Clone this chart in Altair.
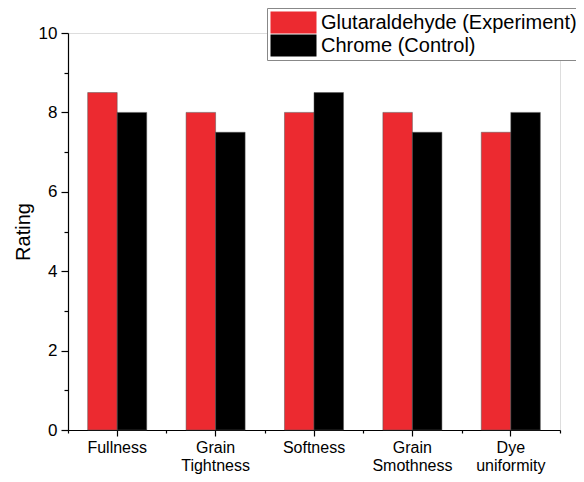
import altair as alt
import pandas as pd

categories = ["Fullness", "Grain\nTightness", "Softness", "Grain\nSmothness", "Dye\nuniformity"]
series = ["Glutaraldehyde (Experiment)", "Chrome (Control)"]
glutaraldehyde = [8.5, 8.0, 8.0, 8.0, 7.5]
chrome = [8.0, 7.5, 8.5, 7.5, 8.0]
colors = ["#EC2A30", "#000000"]

rows = []
for i, c in enumerate(categories):
    rows.append({"cat": c, "series": series[0], "value": glutaraldehyde[i]})
    rows.append({"cat": c, "series": series[1], "value": chrome[i]})
df = pd.DataFrame(rows)

FONT = "Liberation Sans"

yaxis = alt.Axis(values=list(range(0, 11)),
                 labelExpr="datum.value % 2 === 0 ? datum.label : ''",
                 tickSize={"condition": {"test": "datum.value % 2 === 0", "value": 7}, "value": 4},
                 labelFontSize=17, labelColor="black", labelFont=FONT,
                 titleFontSize=20, titleFontWeight="normal", titleFont=FONT,
                 titleColor="black", titlePadding=5, labelPadding=4,
                 domainColor="black", tickColor="black", domainWidth=1.2,
                 tickWidth=1.2, grid=False)
yscale = alt.Scale(domain=[0, 10], nice=False)

bars = alt.Chart(df).mark_bar(stroke="#555555", strokeWidth=0.5).encode(
    x=alt.X("cat:N", sort=categories,
            scale=alt.Scale(domain=categories, paddingInner=0.4, paddingOuter=0.2),
            title=None,
            axis=alt.Axis(labelExpr="split(datum.label, '\\n')", labelAngle=0,
                          labelFontSize=16, labelLineHeight=18, labelPadding=3,
                          tickSize=6, domainColor="black", tickColor="black",
                          domainWidth=1.2, tickWidth=1.2, labelColor="black",
                          labelFont=FONT)),
    xOffset=alt.XOffset("series:N", sort=series),
    y=alt.Y("value:Q", scale=yscale, title="Rating", axis=yaxis),
    color=alt.Color("series:N", sort=series,
                    scale=alt.Scale(domain=series, range=colors),
                    legend=alt.Legend(title=None, orient="none", legendX=199, legendY=-25,
                                      symbolType="M-2,-0.956H2V0.956H-2Z", symbolSize=529,
                                      symbolOffset=12,
                                      symbolStrokeWidth=0, labelFontSize=20, labelFont=FONT,
                                      labelColor="black", labelOffset=16, padding=3,
                                      rowPadding=0, fillColor="white", labelLimit=400,
                                      strokeColor="#888888", symbolOpacity=1)),
)

minor = alt.Chart(df).mark_bar(opacity=0).encode(
    x=alt.X("cat:N", sort=categories,
            scale=alt.Scale(domain=categories, paddingInner=0, paddingOuter=0),
            title=None,
            axis=alt.Axis(tickBand="extent", labels=False, domain=False, tickSize=3,
                          tickColor="black", tickWidth=1.2, orient="bottom")),
    y=alt.Y("value:Q", scale=yscale, title="Rating", axis=yaxis),
)

chart = alt.layer(bars, minor).resolve_scale(x="independent").resolve_axis(x="independent").properties(
    width=492, height=397,
    padding={"left": 60, "top": 25, "right": 16, "bottom": 44},
    autosize=alt.AutoSizeParams(type="none"),
).configure_view(stroke=None).configure(background="white")

chart.save("out.html", embed_options={"renderer": "svg", "actions": False})
